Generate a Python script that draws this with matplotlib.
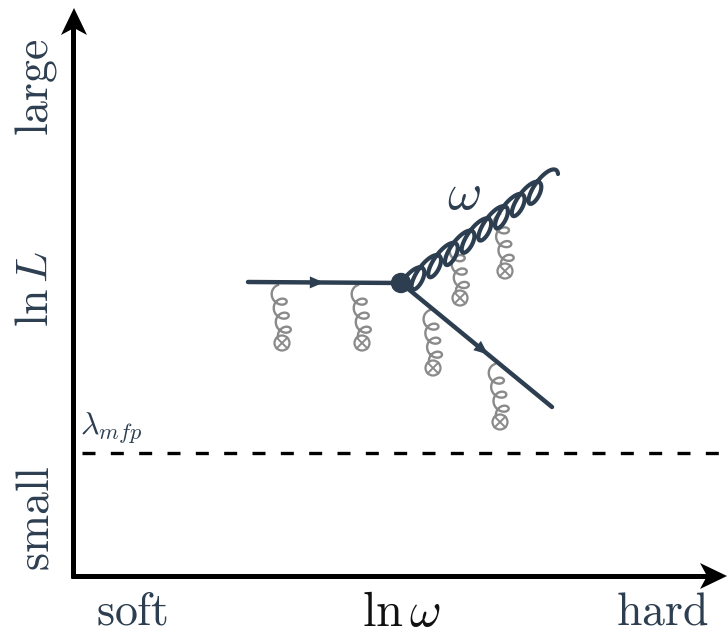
import matplotlib.pyplot as plt
import numpy as np
from matplotlib.patches import Circle, Polygon

plt.rcParams["mathtext.fontset"] = "cm"

NAVY = "#2c3e50"
GRAY = "#8a8a8a"
W, H = 728, 636

# frame of the sketch (pixel units, y grows downward)
ORIGIN = (73, 576)
Y_TIP = 8
X_TIP = 727
MFP_Y = 453
MFP_START = 82

# quark lines
QUARK_START = (248, 282)
VERTEX = (401, 283)
QUARK_END = (552, 407)
ARROW_IN_FRAC = 0.45
ARROW_OUT_FRAC = 0.54

# radiated gluon
GLUON_END = (558, 174)
GLUON_LOOPS = 9

# medium kicks: top of the coil, centre of the source cross
KICK_TOPS = [(278, 285), (358, 285), (430, 310), (495, 364), (456, 242), (500, 214)]
KICK_SOURCES = [(282, 343), (362, 343), (433, 368), (500, 422), (460, 298), (505, 271)]

# labels
X_LABELS = [r"$\mathrm{soft}$", r"$\ln\omega$", r"$\mathrm{hard}$"]
X_LABEL_POS = [132, 401, 662]
Y_LABELS = [r"$\mathrm{large}$", r"$\ln L$", r"$\mathrm{small}$"]
Y_LABEL_POS = [87, 289, 518]
MFP_LABEL = r"$\lambda_{mfp}$"
GLUON_LABEL = r"$\omega$"


def coil(p0, p1, th0, th1, long_deg, a, b, slow_at, kappa, n=1500):
    # ellipse traced while its centre creeps from p0 to p1; the creep is
    # slowest at phase slow_at so the loops stay open there
    t = np.radians(long_deg)
    e_long = np.array([np.cos(t), -np.sin(t)])
    e_short = np.array([np.sin(t), np.cos(t)])
    th = np.linspace(th0, th1, n)
    off = np.outer(a * np.cos(th), e_long) + np.outer(b * np.sin(th), e_short)
    g = th - kappa * np.sin(th - slow_at)
    s = (g - g[0]) / (g[-1] - g[0])
    drift = np.array(p1, float) - np.array(p0, float) - (off[-1] - off[0])
    pts = np.array(p0, float) + np.outer(s, drift) + off - off[0]
    return pts[:, 0], pts[:, 1]


def arrow_head(ax, tip, direction, length, half_width, notch, color):
    d = np.array(direction, float)
    d /= np.linalg.norm(d)
    nrm = np.array([-d[1], d[0]])
    tip = np.array(tip, float)
    base = tip - d * length
    pts = [tip, base + nrm * half_width, tip - d * (length - notch), base - nrm * half_width]
    ax.add_patch(Polygon(pts, closed=True, color=color, lw=0, zorder=6))


def main():
    fig = plt.figure(figsize=(W / 100, H / 100), dpi=100)
    ax = fig.add_axes([0, 0, 1, 1])
    ax.set_xlim(0, W)
    ax.set_ylim(H, 0)
    ax.axis("off")

    # axes of the sketch
    ox, oy = ORIGIN
    ax.plot([ox, ox], [oy + 2, Y_TIP + 15], color="black", lw=3.6, solid_capstyle="butt", zorder=5)
    ax.plot([ox - 2, X_TIP - 15], [oy, oy], color="black", lw=3.6, solid_capstyle="butt", zorder=5)
    arrow_head(ax, (ox + 1, Y_TIP), (0, -1), 27, 13, 7, "black")
    arrow_head(ax, (X_TIP, oy), (1, 0), 27, 13, 7, "black")

    # mean free path
    ax.plot([MFP_START, W], [MFP_Y, MFP_Y], color="black", lw=2.4, ls=(0, (3.9, 4.6)), zorder=3)
    ax.text(MFP_START - 2, MFP_Y - 7, MFP_LABEL, fontsize=23, color=NAVY, ha="left", va="bottom")

    # labels
    for text, x in zip(X_LABELS, X_LABEL_POS):
        color = "#111111" if "ln" in text else NAVY
        size = 35 if "ln" in text else 33
        ax.text(x, 612, text, fontsize=size, color=color, ha="center", va="center")
    for text, y in zip(Y_LABELS, Y_LABEL_POS):
        ax.text(36, y, text, fontsize=33, color=NAVY, ha="center", va="center", rotation=90)

    # medium kicks
    for top, src in zip(KICK_TOPS, KICK_SOURCES):
        r = 7.5
        end = (src[0] - 0.55 * r, src[1] - 0.84 * r)
        xs, ys = coil(top, end, np.pi / 2, 7 * np.pi, 0, 7.0, -5.0, 0.0, 0.5)
        ax.plot(xs, ys, color=GRAY, lw=1.7, zorder=2)
        ax.add_patch(Circle(src, r, fill=False, ec=GRAY, lw=1.6, zorder=2))
        k = r * np.sqrt(0.5)
        ax.plot([src[0] - k, src[0] + k], [src[1] - k, src[1] + k], color=GRAY, lw=1.4, zorder=2)
        ax.plot([src[0] - k, src[0] + k], [src[1] + k, src[1] - k], color=GRAY, lw=1.4, zorder=2)

    # quark lines
    ax.plot([QUARK_START[0], VERTEX[0]], [QUARK_START[1], VERTEX[1]], color=NAVY, lw=3.2,
            solid_capstyle="round", zorder=4)
    ax.plot([VERTEX[0], QUARK_END[0]], [VERTEX[1], QUARK_END[1]], color=NAVY, lw=3.2,
            solid_capstyle="round", zorder=4)
    p0, v, p1 = np.array(QUARK_START, float), np.array(VERTEX, float), np.array(QUARK_END, float)
    arrow_head(ax, p0 + (v - p0) * ARROW_IN_FRAC + (v - p0) / np.linalg.norm(v - p0) * 7,
               v - p0, 14, 6, 0, NAVY)
    arrow_head(ax, v + (p1 - v) * ARROW_OUT_FRAC + (p1 - v) / np.linalg.norm(p1 - v) * 7,
               p1 - v, 14, 6, 0, NAVY)

    # radiated gluon
    xs, ys = coil(VERTEX, GLUON_END, 1.5 * np.pi, 2 * np.pi * GLUON_LOOPS + 0.9,
                  61, 16, 5.5, np.pi, 0.7)
    ax.plot(xs, ys, color=NAVY, lw=3.0, solid_capstyle="round", zorder=4)
    ax.text(464, 194, GLUON_LABEL, fontsize=38, color=NAVY, ha="center", va="center")

    ax.add_patch(Circle(VERTEX, 9.5, color=NAVY, zorder=7))

    fig.savefig("out.png", dpi=100)


if __name__ == "__main__":
    main()
